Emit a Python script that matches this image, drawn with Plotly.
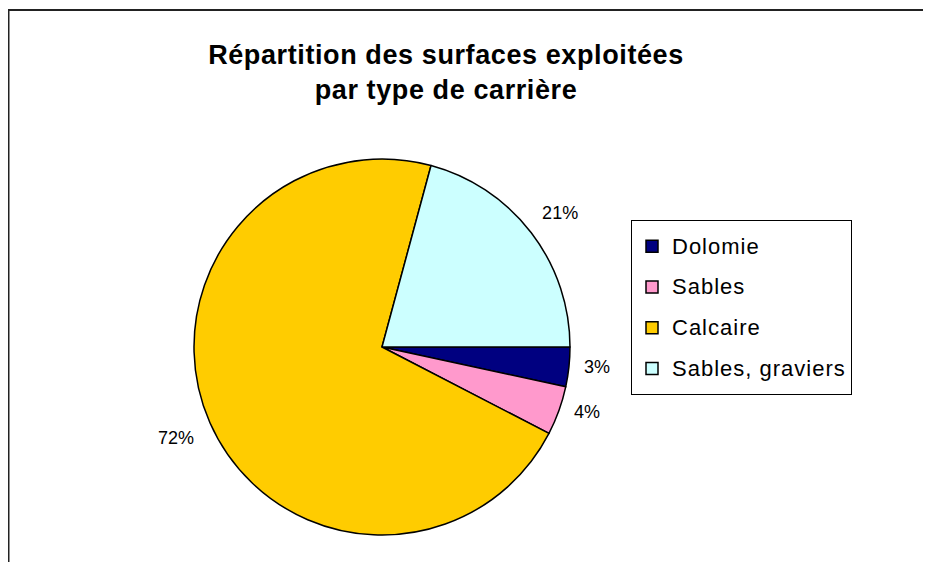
import plotly.graph_objects as go

categories = ["Dolomie", "Sables", "Calcaire", "Sables, graviers"]
values = [3.4, 4.2, 71.6, 20.8]
colors = ["#000080", "#FF99CC", "#FFCC00", "#CCFFFF"]
title_lines = ["Répartition des surfaces exploitées", "par type de carrière"]

# page body has an 8px margin, so the figure is 8px smaller than the window
W, H = 923, 554
OFF = 8

def px_x(v):
    return (v - OFF) / W

def px_y(v):
    return 1 - (v - OFF) / H

NB = "\u00a0"
legend_names = [
    f'<span style="font-size:22px;letter-spacing:1px;baseline-shift:4px">{c}</span>'
    for c in categories
]
title_text = "<br>".join(
    f'<span style="letter-spacing:0.6px">{t}</span>' for t in title_lines
)
label_templates = [
    NB * 2 + "%{percent:.0%}",
    NB * 2 + "%{percent:.0%}",
    NB + "<br>%{percent:.0%}" + NB,
    "%{percent:.0%}<br>" + NB,
]

fig = go.Figure(
    go.Pie(
        labels=legend_names,
        values=values,
        sort=False,
        direction="clockwise",
        rotation=90,
        marker=dict(colors=colors, line=dict(color="black", width=1.5)),
        textposition="outside",
        texttemplate=label_templates,
        textfont=dict(family="Liberation Sans, Arial", size=18, color="black"),
        domain=dict(x=[px_x(194), px_x(570)], y=[px_y(535), px_y(159)]),
        hoverinfo="label+percent",
    )
)

fig.update_layout(
    width=W,
    height=H,
    margin=dict(l=0, r=0, t=0, b=0),
    paper_bgcolor="white",
    plot_bgcolor="white",
    font=dict(family="Liberation Sans, Arial", color="black"),
    title=dict(
        text=title_text,
        x=px_x(446),
        xanchor="center",
        xref="paper",
        y=px_y(64),
        yref="paper",
        yanchor="middle",
        font=dict(family="Liberation Sans, Arial", size=27, color="black", weight="bold"),
    ),
    legend=dict(
        x=px_x(631),
        xanchor="left",
        y=px_y(220),
        yanchor="top",
        bordercolor="black",
        borderwidth=1,
        bgcolor="white",
        font=dict(family="Liberation Sans, Arial", size=29, color="black"),
    ),
    showlegend=True,
    shapes=[
        dict(
            type="path",
            xref="paper",
            yref="paper",
            path=f"M {px_x(8.5)} 0 L {px_x(8.5)} {px_y(10)} L 1 {px_y(10)}",
            line=dict(color="#222222", width=2),
        )
    ],
)

fig.write_html("out.html")
